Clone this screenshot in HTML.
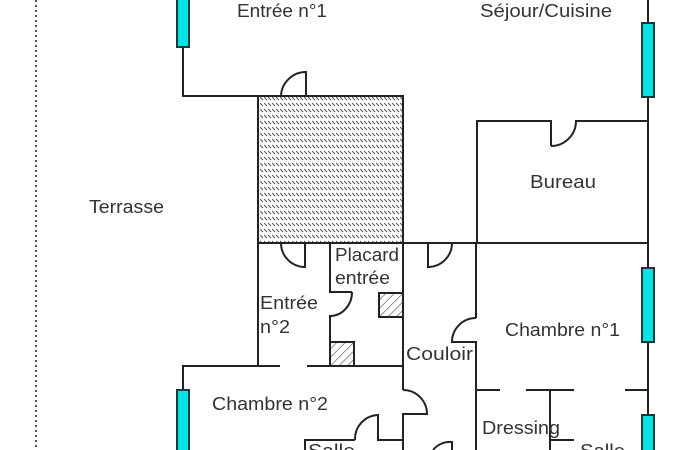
<!DOCTYPE html>
<html><head><meta charset="utf-8"><style>
html,body{margin:0;padding:0;background:#fff;}
svg{display:block;}
text{font-family:"Liberation Sans",sans-serif;font-size:18px;fill:#333;}
</style></head><body>
<svg width="700" height="450" viewBox="0 0 700 450" xmlns="http://www.w3.org/2000/svg">
<defs>
<pattern id="h" width="4" height="6" patternUnits="userSpaceOnUse">
<line x1="0" y1="1" x2="3" y2="4" stroke="#555" stroke-width="1"/>
</pattern>
<pattern id="h2" width="6" height="6" patternUnits="userSpaceOnUse" patternTransform="rotate(45)">
<line x1="0" y1="0" x2="0" y2="6" stroke="#444" stroke-width="1.2"/>
</pattern>
</defs>
<line x1="36" y1="0" x2="36" y2="450" stroke="#555" stroke-width="2" stroke-dasharray="2,3"/>
<rect x="258" y="96" width="146" height="147" fill="url(#h)"/>
<g fill="none" stroke="#222" stroke-width="2">
<polyline points="183,47 183,96 403,96 403,243"/>
<line x1="258" y1="96" x2="258" y2="366"/>
<path d="M306,96 V72 A25,25 0 0 0 281,96"/>
<line x1="648" y1="0" x2="648" y2="450"/>
<polyline points="477,243 477,121 551,121 551,146"/>
<path d="M551,146 A25,25 0 0 0 576,121 H648"/>
<polyline points="258,243 648,243"/>
<path d="M281,243 A24,24 0 0 0 305,267 V243"/>
<path d="M428,243 V267 A24,24 0 0 0 452,243"/>
<polyline points="330,243 330,292 352,292"/>
<path d="M352,292 A22,24 0 0 1 330,316 V366"/>
<polyline points="183,390 183,366 280,366"/>
<line x1="307" y1="366" x2="403" y2="366"/>
<line x1="403" y1="243" x2="403" y2="390"/>
<path d="M403,390 A24,24 0 0 1 427,414 H403 V450"/>
<polyline points="476,243 476,318"/>
<path d="M476,318 A24,24 0 0 0 452,342 H476 V450"/>
<polyline points="305,450 305,440 355,440"/>
<path d="M355,440 A24,24 0 0 1 378,415 V440 H403"/>
<path d="M433,450 A22,22 0 0 1 452,442 V450"/>
<line x1="476" y1="390" x2="500" y2="390"/>
<line x1="526" y1="390" x2="574" y2="390"/>
<line x1="625" y1="390" x2="648" y2="390"/>
<polyline points="550,390 550,450"/>
<line x1="550" y1="440" x2="574" y2="440"/>
</g>
<rect x="379" y="293" width="24" height="24" fill="url(#h2)" stroke="#222" stroke-width="2"/>
<rect x="330" y="342" width="24" height="24" fill="url(#h2)" stroke="#222" stroke-width="2"/>
<g fill="#00e5e5" stroke="#1a3a3a" stroke-width="2">
<rect x="177" y="-2" width="12" height="49"/>
<rect x="177" y="390" width="12" height="65"/>
<rect x="642" y="23" width="12" height="74"/>
<rect x="642" y="268" width="12" height="74"/>
<rect x="642" y="415" width="12" height="40"/>
</g>
<g lengthAdjust="spacingAndGlyphs">
<text x="237" y="17" textLength="90" lengthAdjust="spacingAndGlyphs">Entrée n°1</text>
<text x="480" y="17" textLength="132" lengthAdjust="spacingAndGlyphs">Séjour/Cuisine</text>
<text x="530" y="188" textLength="66" lengthAdjust="spacingAndGlyphs">Bureau</text>
<text x="89" y="213" textLength="75" lengthAdjust="spacingAndGlyphs">Terrasse</text>
<text x="335" y="261" textLength="64" lengthAdjust="spacingAndGlyphs">Placard</text>
<text x="335" y="284" textLength="55" lengthAdjust="spacingAndGlyphs">entrée</text>
<text x="260" y="309" textLength="58" lengthAdjust="spacingAndGlyphs">Entrée</text>
<text x="260" y="333" textLength="30" lengthAdjust="spacingAndGlyphs">n°2</text>
<text x="212" y="410" textLength="116" lengthAdjust="spacingAndGlyphs">Chambre n°2</text>
<text x="406" y="360" textLength="67" lengthAdjust="spacingAndGlyphs">Couloir</text>
<text x="505" y="336" textLength="115" lengthAdjust="spacingAndGlyphs">Chambre n°1</text>
<text x="482" y="434" textLength="78" lengthAdjust="spacingAndGlyphs">Dressing</text>
<text x="580" y="457" textLength="45" lengthAdjust="spacingAndGlyphs">Salle</text>
<text x="308" y="457" textLength="47" lengthAdjust="spacingAndGlyphs">Salle</text>
</g>
</svg>
</body></html>
